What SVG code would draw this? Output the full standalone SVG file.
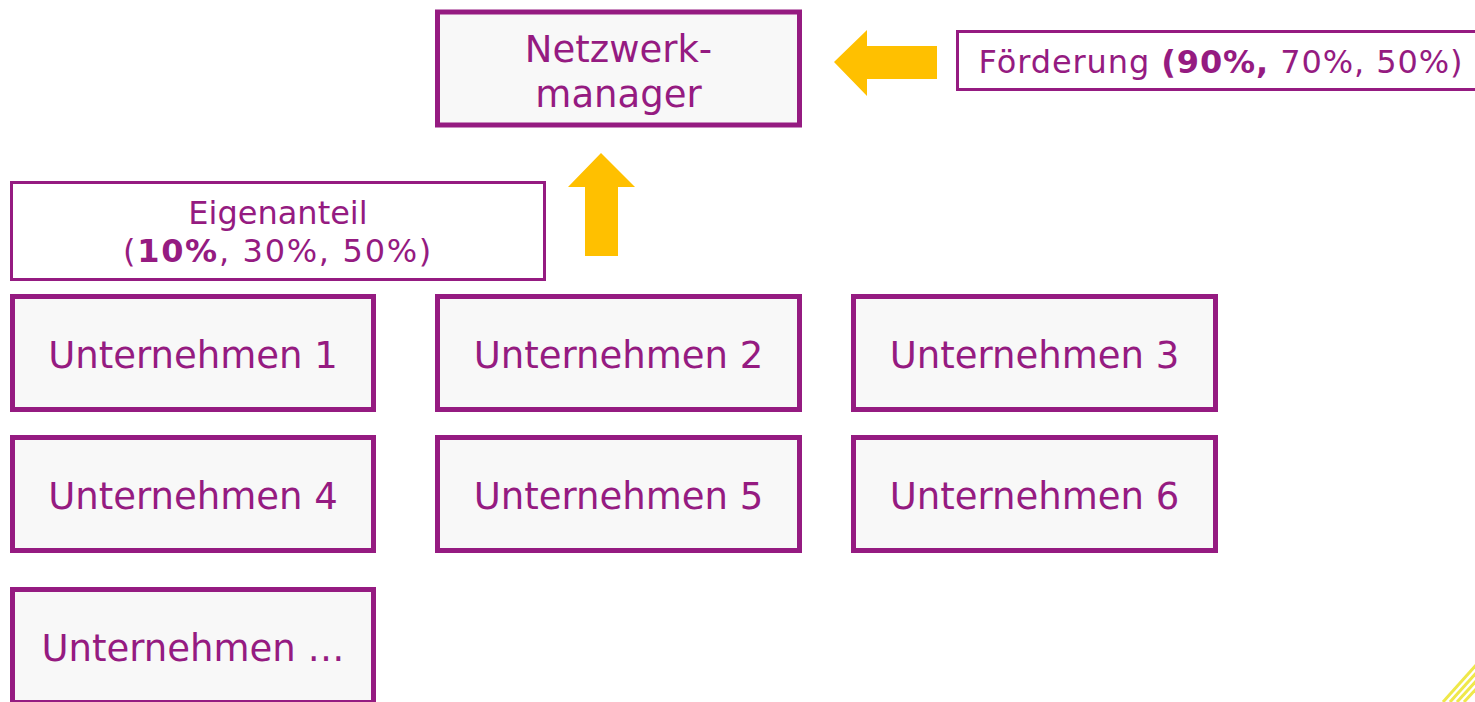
<svg xmlns="http://www.w3.org/2000/svg" width="1475" height="702" viewBox="0 0 1475 702">
<style>
.box{fill:#F8F8F8;stroke:#951B81;stroke-width:5}
.lbl{fill:#FFFFFF;stroke:#951B81;stroke-width:3}
.t{font-family:"DejaVu Sans","Verdana",sans-serif;fill:#951B81;text-anchor:middle}
.big{font-size:37px}
.sm{font-size:32px}
.b{font-weight:bold}
.arrow{fill:#FFC000}
.deco{stroke:#EFE84A;stroke-width:3;fill:none}
</style>
<rect width="1475" height="702" fill="#FFFFFF"/>
<g id="connectors">
<polygon class="arrow" points="834,62 867,30 867,46 937,46 937,79 867,79 867,96"/>
<polygon class="arrow" points="601,153 635,187 618,187 618,256 585,256 585,187 568,187"/>
</g>
<g id="netzwerkmanager">
<rect class="box" x="437.5" y="12" width="362" height="113"/>
<text class="t big" x="618.5" y="62">Netzwerk-</text>
<text class="t big" x="618.5" y="107">manager</text>
</g>
<g id="foerderung">
<rect class="lbl" x="957.5" y="31.5" width="530" height="58"/>
<text class="t sm" x="1221" y="73" letter-spacing="0.9">Förderung <tspan class="b">(90%,</tspan> 70%, 50%)</text>
</g>
<g id="eigenanteil">
<rect class="lbl" x="11.5" y="182.5" width="533" height="97"/>
<text class="t sm" x="278" y="224">Eigenanteil</text>
<text class="t sm" x="278" y="262" letter-spacing="1.7">(<tspan class="b">10%</tspan>, 30%, 50%)</text>
</g>
<g id="u1">
<rect class="box" x="12.5" y="296.5" width="361" height="113"/>
<text class="t big" x="193" y="368">Unternehmen 1</text>
</g>
<g id="u2">
<rect class="box" x="437.5" y="296.5" width="362" height="113"/>
<text class="t big" x="618.5" y="368">Unternehmen 2</text>
</g>
<g id="u3">
<rect class="box" x="853.5" y="296.5" width="362" height="113"/>
<text class="t big" x="1034.5" y="368">Unternehmen 3</text>
</g>
<g id="u4">
<rect class="box" x="12.5" y="437.5" width="361" height="113"/>
<text class="t big" x="193" y="509">Unternehmen 4</text>
</g>
<g id="u5">
<rect class="box" x="437.5" y="437.5" width="362" height="113"/>
<text class="t big" x="618.5" y="509">Unternehmen 5</text>
</g>
<g id="u6">
<rect class="box" x="853.5" y="437.5" width="362" height="113"/>
<text class="t big" x="1034.5" y="509">Unternehmen 6</text>
</g>
<g id="u7">
<rect class="box" x="12.5" y="589.5" width="361" height="113"/>
<text class="t big" x="193" y="661">Unternehmen …</text>
</g>
<g id="deco">
<line class="deco" x1="1443" y1="702" x2="1477" y2="664"/>
<line class="deco" x1="1450" y1="702" x2="1477" y2="672"/>
<line class="deco" x1="1457" y1="702" x2="1477" y2="680"/>
<line class="deco" x1="1464" y1="702" x2="1477" y2="688"/>
</g>
</svg>
